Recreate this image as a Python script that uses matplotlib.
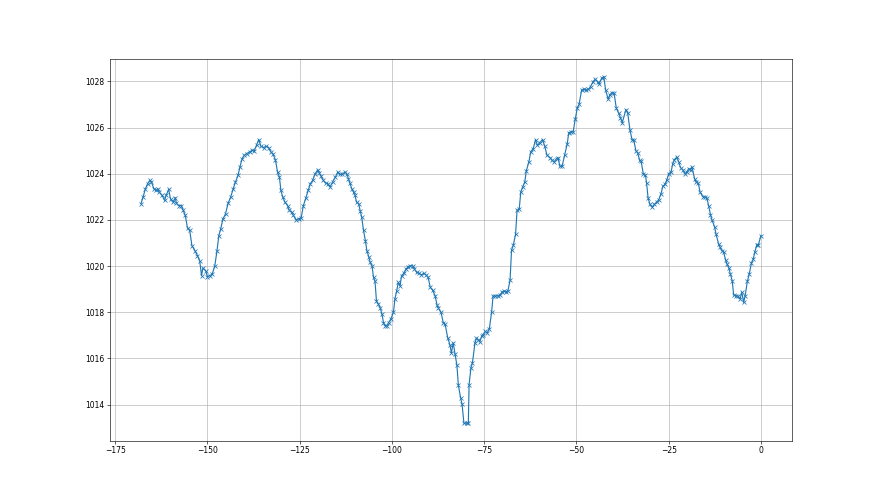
import matplotlib
matplotlib.use("Agg")
import matplotlib.pyplot as plt

hours = [
    -168.0, -167.4, -166.8, -166.2, -165.6, -165.2, -164.5, -164.0, -163.5, -163.0,
    -162.3, -161.6, -161.2, -160.5, -160.0, -159.3, -158.7, -158.4, -157.8, -157.1,
    -156.6, -156.0, -155.4, -154.8, -154.2, -153.4, -152.7, -152.1, -151.6, -151.2,
    -150.5, -150.0, -149.4, -148.7, -148.0, -147.4, -146.9, -146.4, -145.8, -145.1,
    -144.4, -143.7, -143.0, -142.4, -141.7, -141.2,
    -140.6, -140.0, -139.4, -138.6, -137.9, -137.3, -136.7, -136.1, -135.5, -134.8,
    -134.1, -133.4, -132.8, -132.3, -131.6, -131.0, -130.5, -130.1, -129.6, -129.0,
    -128.3, -127.8, -127.2, -126.7, -126.0, -125.3, -124.6, -124.0, -123.3, -122.7,
    -122.1, -121.5, -120.8, -120.1, -119.7, -119.2, -118.6, -118.0, -117.4, -116.8,
    -116.1, -115.3, -114.7, -114.2, -113.5,
    -112.7, -112.2, -111.8, -111.4, -110.9, -110.4, -110.0, -109.6, -109.0, -108.6,
    -108.2, -107.7, -107.2, -106.8, -106.3, -105.9, -105.4, -105.0, -104.6, -104.2,
    -103.7, -103.2, -102.7, -102.3, -101.8, -101.4, -100.9, -100.3, -99.6, -99.2,
    -98.7, -98.3, -97.8, -97.4, -96.8, -96.2, -95.6, -95.1, -94.4, -93.9,
    -93.3, -92.6, -92.0, -91.4, -90.8, -90.2, -89.6, -89.0, -88.3, -87.8,
    -87.4, -86.7, -86.1, -85.6, -84.9,
    -84.3, -83.9, -83.4, -82.9, -82.4, -82.0, -81.4, -81.0, -80.5, -79.8,
    -79.3, -79.1, -78.6, -78.2, -77.5, -77.1, -76.6, -76.2, -75.7, -75.3,
    -74.7, -74.2, -73.6, -73.0, -72.6, -72.0, -71.4, -70.8, -70.1, -69.6,
    -69.1, -68.6, -68.0, -67.6, -67.1, -66.5,
    -66.1, -65.5, -65.1, -64.6, -64.0, -63.6, -62.9, -62.4, -61.7, -61.1,
    -60.6, -60.0, -59.2, -58.6, -58.0, -57.2, -56.6, -56.1, -55.4, -55.0,
    -54.5, -53.9, -53.2, -52.5, -52.1, -51.5, -50.9, -50.3, -49.8, -49.3,
    -48.6, -48.0, -47.5, -46.8, -46.2, -45.5, -44.9, -44.3, -43.9, -43.2,
    -42.6, -42.1, -41.4, -41.0, -40.4, -39.8, -39.2, -38.6, -38.1, -37.6,
    -36.6, -36.1, -35.5, -34.9, -34.5, -33.9, -33.4, -32.9, -32.5, -31.9,
    -31.3, -31.0, -30.6, -30.1, -29.5, -28.9, -28.3, -27.7, -27.1, -26.6,
    -26.0, -25.5, -25.0, -24.4, -23.9, -23.5, -22.8, -22.3, -21.8, -21.2,
    -20.6, -20.1, -19.6, -19.1, -18.7, -18.0, -17.6, -17.0, -16.5, -15.8,
    -15.3, -14.7, -14.2, -13.7, -13.3, -12.6, -12.2, -11.5, -11.1, -10.6,
    -10.1, -9.6, -9.2, -8.7, -8.3, -7.8, -7.4, -6.8, -6.3, -5.7,
    -5.2, -4.7, -4.3, -3.7, -3.2, -2.6, -2.1, -1.7, -1.1, -0.7, 0.0,
]

pressure = [
    1022.70, 1023.01, 1023.35, 1023.57, 1023.71, 1023.64, 1023.35, 1023.28, 1023.32, 1023.20,
    1023.06, 1022.84, 1023.06, 1023.32, 1022.90, 1022.77, 1022.96, 1022.72, 1022.62, 1022.62,
    1022.43, 1022.19, 1021.65, 1021.54, 1020.88, 1020.67, 1020.45, 1020.23, 1019.58, 1019.91,
    1019.80, 1019.54, 1019.58, 1019.65, 1020.01, 1020.67, 1021.32, 1021.61, 1022.04, 1022.26,
    1022.72, 1022.99, 1023.35, 1023.64, 1023.93, 1024.29,
    1024.65, 1024.80, 1024.87, 1024.94, 1025.01, 1024.99, 1025.23, 1025.48, 1025.19, 1025.13,
    1025.19, 1025.13, 1024.94, 1024.87, 1024.61, 1024.07, 1023.86, 1023.28, 1022.99, 1022.77,
    1022.62, 1022.41, 1022.33, 1022.19, 1022.01, 1022.04, 1022.09, 1022.62, 1022.96, 1023.28,
    1023.57, 1023.71, 1024.00, 1024.17, 1024.03, 1023.88, 1023.71, 1023.59, 1023.57, 1023.42,
    1023.64, 1023.86, 1024.07, 1023.97, 1023.97,
    1024.07, 1023.97, 1023.78, 1023.59, 1023.35, 1023.20, 1023.06, 1022.77, 1022.70, 1022.38,
    1022.12, 1021.54, 1021.10, 1020.67, 1020.41, 1020.16, 1020.01, 1019.51, 1019.36, 1018.49,
    1018.35, 1018.20, 1017.91, 1017.55, 1017.41, 1017.41, 1017.55, 1017.70, 1017.99, 1018.57,
    1018.93, 1019.29, 1019.14, 1019.58, 1019.68, 1019.87, 1019.97, 1020.01, 1020.01, 1019.87,
    1019.72, 1019.68, 1019.62, 1019.68, 1019.62, 1019.51, 1019.07, 1018.96, 1018.71, 1018.32,
    1018.17, 1017.99, 1017.55, 1017.48, 1016.90,
    1016.59, 1016.23, 1016.67, 1016.19, 1015.70, 1014.83, 1014.30, 1014.01, 1013.19, 1013.19,
    1013.22, 1014.86, 1015.58, 1015.80, 1016.67, 1016.88, 1016.81, 1016.71, 1016.96, 1017.03,
    1017.17, 1017.10, 1017.29, 1018.00, 1018.70, 1018.70, 1018.70, 1018.74, 1018.88, 1018.91,
    1018.88, 1018.91, 1019.38, 1020.68, 1020.91, 1021.38,
    1022.41, 1022.48, 1023.20, 1023.42, 1023.64, 1024.12, 1024.51, 1024.94, 1025.09, 1025.48,
    1025.23, 1025.33, 1025.48, 1025.19, 1024.80, 1024.70, 1024.58, 1024.51, 1024.65, 1024.70,
    1024.32, 1024.32, 1024.80, 1025.30, 1025.77, 1025.81, 1025.81, 1026.39, 1026.83, 1027.00,
    1027.62, 1027.65, 1027.62, 1027.65, 1027.77, 1027.99, 1028.09, 1027.99, 1027.88, 1028.13,
    1028.20, 1027.62, 1027.22, 1027.41, 1027.51, 1027.48, 1026.83, 1026.64, 1026.43, 1026.20,
    1026.78, 1026.61, 1025.88, 1025.45, 1025.48, 1024.99, 1024.90, 1024.58, 1024.55, 1024.00,
    1023.93, 1023.59, 1022.96, 1022.67, 1022.55, 1022.67, 1022.77, 1022.87, 1023.13, 1023.45,
    1023.54, 1023.74, 1024.00, 1024.06, 1024.43, 1024.61, 1024.72, 1024.51, 1024.26, 1024.17,
    1024.00, 1024.07, 1024.22, 1024.17, 1024.29, 1023.78, 1023.64, 1023.59, 1023.20, 1023.01,
    1022.99, 1022.96, 1022.62, 1022.23, 1022.00, 1021.71, 1021.39, 1020.96, 1020.81, 1020.67,
    1020.59, 1020.26, 1020.09, 1019.91, 1019.65, 1019.36, 1018.74, 1018.71, 1018.71, 1018.57,
    1018.86, 1018.42, 1018.71, 1019.33, 1019.65, 1020.12, 1020.30, 1020.59, 1020.93, 1020.93, 1021.32,
]

fig, ax = plt.subplots(figsize=(16, 9), dpi=55)
ax.plot(hours, pressure, marker="x", color="#1f77b4")
ax.grid(True)
fig.savefig("out.png", dpi=55)
